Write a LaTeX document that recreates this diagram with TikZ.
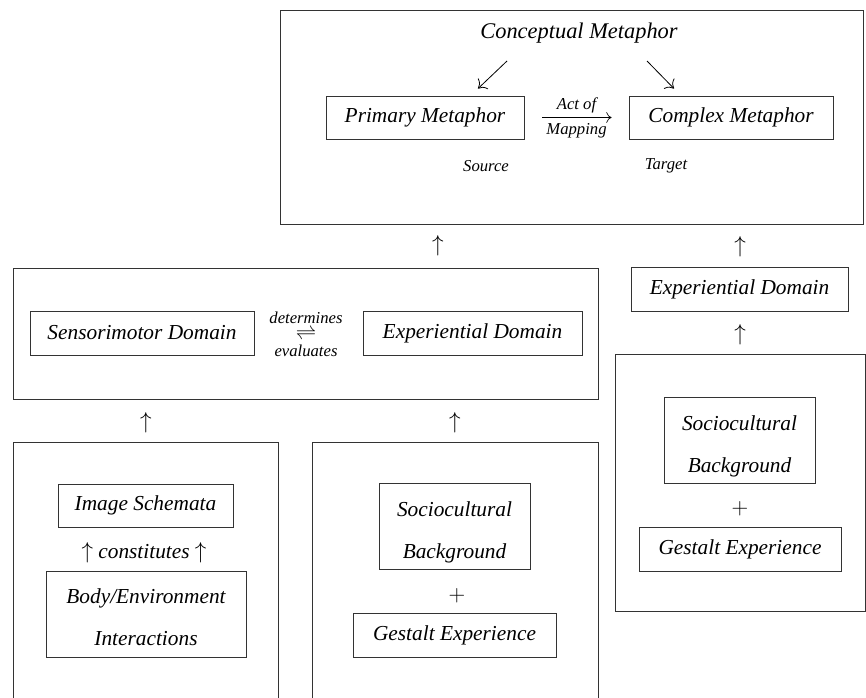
\documentclass[tikz,border=0pt]{standalone}
\usepackage{amsmath}
\usepackage{fontspec}
\setmainfont{Liberation Serif}
\usetikzlibrary{arrows.meta,positioning,fit,backgrounds}

\newcommand{\boxfont}{\fontsize{16}{19.5}\selectfont\itshape}
\newcommand{\tagfont}{\fontsize{12.5}{15}\selectfont\itshape}

\begin{document}
\begin{tikzpicture}[
	x=0.75pt, y=-0.75pt,
	font=\boxfont,
		box/.style={
			rectangle,
			draw=black!80,
			line width=0.6pt,
			minimum height=33pt,
			inner sep=0pt,
			align=center
		},
		tallbox/.style={
			box,
			minimum height=64.5pt
		},
		frame/.style={
			rectangle,
			draw=black!80,
			line width=0.6pt,
			inner sep=0pt
		},
		rule/.style={
			draw=black!80,
			line width=0.6pt
		},
		tag/.style={
			font=\tagfont,
			inner sep=1pt
		},
		glyph/.style={
			inner sep=0pt
		},
		arrow/.style={
			-{To[length=5.5pt,width=11pt]},
			line width=0.6pt
		},
		maparrow/.style={
			-{To[length=4pt,width=8pt]},
			line width=0.5pt
		}
	]
	\useasboundingbox (0,0) rectangle (866,698);

	% Conceptual metaphor
	\node[font=\fontsize{16.8}{20}\selectfont\itshape] (concept) at (579,33) {Conceptual Metaphor};
	\node[box, minimum width=148.5pt, minimum height=32.25pt] (primary) at (425,117.5) {Primary Metaphor};
	\node[box, minimum width=153pt, minimum height=32.25pt] (complex) at (731,117.5) {Complex Metaphor};
	\node[tag] (source) at (486,166) {Source};
	\node[tag] (target) at (666,166) {Target};
	\draw[arrow] ([shift={(-72,28)}]concept.center) -- ([shift={(53,-7)}]primary.north);
	\draw[arrow] ([shift={(68,28)}]concept.center) -- ([shift={(-57,-7)}]complex.north);
	\draw[maparrow, shorten <=13.5pt, shorten >=12.75pt] (primary) -- node[tag, above=2pt] {Act of} node[tag, below=3.5pt] {Mapping} (complex);

	% Domains
	\node[box, minimum width=168pt] (sensori) at (142,333) {Sensorimotor Domain};
	\node[box, minimum width=164.25pt] (experL) at (472.5,333) {Experiential Domain};
	\node[tag, align=center] (relation) at (306,334) {determines\\[-2.5pt]\scalebox{1.3}{$\rightleftharpoons$}\\[-2.5pt]evaluates};
	\node[box, minimum width=162.75pt] (experR) at (739.5,289) {Experiential Domain};

	% Left foundation
	\node[box, minimum width=131.25pt, minimum height=32.25pt] (schemata) at (145.5,505.5) {Image Schemata};
	\node (constit) at (144,553) {$\uparrow$ constitutes $\uparrow$};
	\node[tallbox, minimum width=150pt] (bodyenv) at (146,614) {\rule{0pt}{16pt}Body/Environment\\[12.5pt]Interactions};

	% Middle foundation
	\node[tallbox, minimum width=113.25pt] (socioM) at (454.5,526) {\rule{0pt}{20pt}Sociocultural\\[12pt]Background};
	\node[glyph] (plusM) at (457,596) {$+$};
	\node[box, minimum width=152.25pt] (gestaltM) at (454.5,635) {Gestalt Experience};

	% Right foundation
	\node[tallbox, minimum width=113.25pt] (socioR) at (739.5,440.5) {\rule{0pt}{20pt}Sociocultural\\[12pt]Background};
	\node[glyph] (plusR) at (740,509) {$+$};
	\node[box, minimum width=151.5pt] (gestaltR) at (740,549) {Gestalt Experience};

	% Upward arrows
	\node[glyph] (upTop) at (438,246) {$\uparrow$};
	\node[glyph] (upExp) at (740,247) {$\uparrow$};
	\node[glyph] (upSoc) at (740,335) {$\uparrow$};
	\node[glyph] (upLeft) at (146,423) {$\uparrow$};
	\node[glyph] (upMid) at (455,423) {$\uparrow$};

	% Frames
	\begin{pgfonlayer}{background}
		\node[frame, fit={(280,10) (863,224)}] (conceptframe) {};
		\node[frame, fit={(13,268) (598,399)}] (domainframe) {};
		\node[frame, fit={(615,354) (865,611)}] (rightframe) {};
		\draw[rule] (13,698) |- (278,442) -- (278,698);
		\draw[rule] (312,698) |- (598,442) -- (598,698);
	\end{pgfonlayer}
\end{tikzpicture}
\end{document}
